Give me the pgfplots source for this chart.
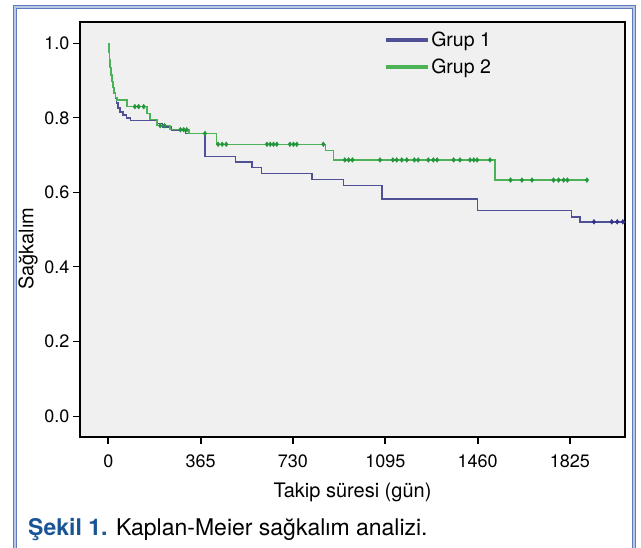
\documentclass[border=0pt]{standalone}
\usepackage{fontspec}
\setmainfont{TeX Gyre Heros}
\usepackage{pgfplots}
\pgfplotsset{compat=1.18}
\usepackage{pgfplotstable}

\definecolor{gone}{RGB}{80,80,150}
\definecolor{gtwo}{RGB}{75,178,85}
\definecolor{gtwomark}{RGB}{35,150,60}
\definecolor{gonemark}{RGB}{50,50,140}
\definecolor{capblue}{RGB}{25,85,150}
\definecolor{framea}{RGB}{95,125,190}
\definecolor{frameb}{RGB}{185,200,230}
\definecolor{plotbg}{RGB}{240,240,240}

\pgfplotstableread{
t s
0 1.000
2 0.975
4 0.955
7 0.935
10 0.915
14 0.897
18 0.882
23 0.866
28 0.853
33 0.840
39 0.826
46 0.816
58 0.808
72 0.800
88 0.793
191 0.785
215 0.776
250 0.767
305 0.758
383 0.696
502 0.681
567 0.667
606 0.651
806 0.635
929 0.618
1082 0.582
1460 0.552
1832 0.534
1865 0.521
2045 0.521
}\grupone

\pgfplotstableread{
t s
0 1.000
2 0.975
4 0.955
7 0.935
10 0.915
14 0.897
18 0.882
23 0.866
28 0.855
35 0.848
74 0.830
152 0.812
165 0.795
193 0.779
244 0.768
318 0.758
428 0.729
858 0.712
890 0.687
1529 0.633
1892 0.633
}\gruptwo

\pgfplotstableread{
t s
1920 0.521
1990 0.521
2012 0.521
2034 0.521
}\cenone

\pgfplotstableread{
t s
105 0.830
120 0.830
140 0.830
205 0.779
222 0.779
285 0.768
298 0.768
310 0.768
382 0.758
434 0.729
450 0.729
466 0.729
627 0.729
640 0.729
653 0.729
666 0.729
718 0.729
732 0.729
745 0.729
850 0.729
935 0.687
950 0.687
965 0.687
1074 0.687
1125 0.687
1140 0.687
1160 0.687
1180 0.687
1210 0.687
1225 0.687
1265 0.687
1285 0.687
1300 0.687
1365 0.687
1390 0.687
1430 0.687
1445 0.687
1458 0.687
1509 0.687
1590 0.633
1635 0.633
1675 0.633
1760 0.633
1780 0.633
1800 0.633
1815 0.633
1892 0.633
}\centwo

\begin{document}
\begin{tikzpicture}[x=1pt,y=1pt]
\useasboundingbox (0,0) rectangle (641,548);
\begin{scope}
\clip (0,0) rectangle (641,548);
\fill[frameb] (13,-10) rectangle (636,543);
\fill[white] (17,-10) rectangle (632,539);
\draw[framea, line width=1.2pt] (13.6,-10) rectangle (635.4,542.4);
\draw[framea, line width=0.9pt] (16.5,-10) rectangle (632.5,539.5);
\end{scope}

\begin{axis}[
  at={(80pt,111pt)}, anchor=south west,
  scale only axis, width=545pt, height=415pt,
  xmin=-112, xmax=2042.6, ymin=-0.0563, ymax=1.0571,
  axis background/.style={fill=plotbg},
  axis line style={line width=1.2pt, black},
  xtick={0,365,730,1095,1460,1825},
  ytick={0,0.2,0.4,0.6,0.8,1.0},
  tick align=outside,
  major tick length=7pt,
  xtick style={line width=2pt, black},
  ytick style={line width=1pt, black},
  xtick pos=bottom, ytick pos=left,
  /pgf/number format/assume math mode=true,
  tick label style={font=\fontsize{18}{20}\selectfont},
  xticklabel style={/pgf/number format/1000 sep={}, yshift=-7pt},
  yticklabel style={/pgf/number format/fixed, /pgf/number format/fixed zerofill, /pgf/number format/precision=1},
  xlabel={Takip süresi (gün)}, ylabel={Sağkalım},
  label style={font=\fontsize{20}{22}\selectfont},
  xlabel style={at={(axis description cs:0.5,-0.1325)}, anchor=center},
  ylabel style={at={(axis description cs:-0.0954,0.454)}, anchor=center},
  legend style={at={(axis description cs:0.557,0.981)}, anchor=north west, draw=none, fill=none, inner sep=0pt, font=\fontsize{19.5}{22}\selectfont, row sep=6.7pt},
  legend cell align=left,
  legend image code/.code={\draw[#1, line width=3.5pt] (0pt,0pt) -- (42pt,0pt);},
]
\addplot[gone, line width=1.5pt, const plot, mark=none] table[x=t,y=s] {\grupone};
\addlegendentry{Grup 1}
\addplot[gtwo, line width=1.5pt, const plot, mark=none] table[x=t,y=s] {\gruptwo};
\addlegendentry{Grup 2}
\addplot[gonemark, only marks, mark=diamond*, mark size=2.4pt, forget plot] table[x=t,y=s] {\cenone};
\addplot[gtwomark, only marks, mark=diamond*, mark size=2.4pt, forget plot] table[x=t,y=s] {\centwo};
\end{axis}

\node[anchor=base west, inner sep=0pt, font=\fontsize{23}{26}\selectfont] at (28,12) {\textcolor{capblue}{\bfseries Şekil 1.} Kaplan-Meier sağkalım analizi.};
\end{tikzpicture}
\end{document}
